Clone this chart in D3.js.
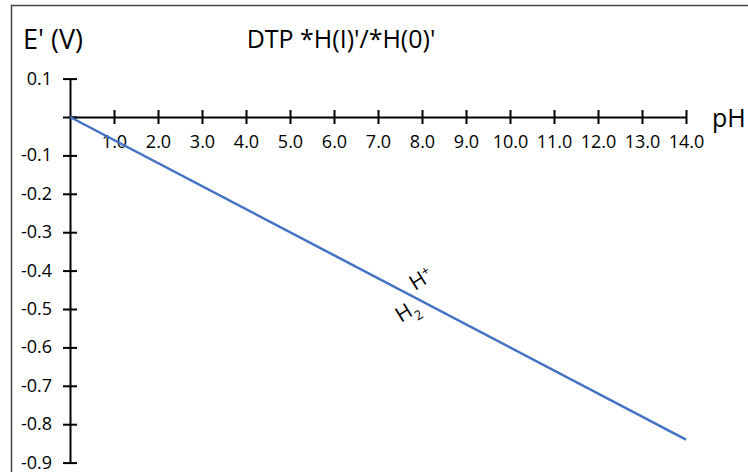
<!DOCTYPE html>
<html>
<head>
<meta charset="utf-8">
<script src="https://cdn.jsdelivr.net/npm/d3@7"></script>
<style>
  body { margin: 0; background: #fff; }
  text { font-family: "Open Sans", sans-serif; fill: #000; }
</style>
</head>
<body>
<div id="chart"></div>
<script>
// data
var phValues = [0, 14];
var potentials = [0, -0.84];
var xTicks = [1, 2, 3, 4, 5, 6, 7, 8, 9, 10, 11, 12, 13, 14];
var yTicks = [0.1, 0, -0.1, -0.2, -0.3, -0.4, -0.5, -0.6, -0.7, -0.8, -0.9];

var svgWidth = 748;
var svgHeight = 472;

var svg = d3.select("#chart")
    .append("svg")
    .attr("width", svgWidth)
    .attr("height", svgHeight);

// outer frame
svg.append("rect")
    .attr("x", 11.5)
    .attr("y", 5.5)
    .attr("width", 760)
    .attr("height", 480)
    .attr("fill", "none")
    .attr("stroke", "#444")
    .attr("stroke-width", 1.5);

var x = d3.scaleLinear().domain([0, 14]).range([70, 686]);
var y = d3.scaleLinear().domain([0.1, -0.9]).range([78.6, 462.6]);

var fmt = function(d) { return d.toFixed(1).replace("\u2212", "-"); };

// y axis
var yAxis = svg.append("g")
    .attr("transform", "translate(" + x(0) + ",0)")
    .call(d3.axisLeft(y).tickValues(yTicks).tickSize(7).tickSizeOuter(0)
        .tickFormat(d => d === 0 ? "" : fmt(d)));
yAxis.selectAll(".tick line").attr("x1", 7);
yAxis.selectAll(".tick text").attr("x", -18).attr("dy", "0.3em").style("font-size", "18px");

// x axis
var xAxis = svg.append("g")
    .attr("transform", "translate(0," + y(0) + ")")
    .call(d3.axisBottom(x).tickValues(xTicks).tickSize(7).tickSizeOuter(0)
        .tickFormat(fmt));
xAxis.selectAll(".tick line").attr("y1", -7);
xAxis.selectAll(".tick text").attr("y", 18).style("font-size", "18px");

svg.selectAll(".domain").attr("stroke", "#000").attr("stroke-width", 2);
svg.selectAll(".tick line").attr("stroke", "#000").attr("stroke-width", 2);

// H+/H2 line
var line = d3.line()
    .x((d, i) => x(phValues[i]))
    .y(d => y(d));

svg.append("path")
    .datum(potentials)
    .attr("d", line)
    .attr("fill", "none")
    .attr("stroke", "#4472C4")
    .attr("stroke-width", 2.5);

// labels
svg.append("text")
    .attr("x", 23)
    .attr("y", 49)
    .style("font-size", "27px")
    .text("E' (V)");

svg.append("text")
    .attr("x", 341)
    .attr("y", 48)
    .attr("text-anchor", "middle")
    .style("font-size", "25px")
    .text("DTP *H(I)'/*H(0)'");

svg.append("text")
    .attr("x", 712)
    .attr("y", 127)
    .style("font-size", "25px")
    .text("pH");

var hp = svg.append("text")
    .attr("transform", "translate(415,291) rotate(-32)")
    .style("font-size", "21px");
hp.append("tspan").text("H");
hp.append("tspan").attr("dy", -7).style("font-size", "13px").text("+");

var h2 = svg.append("text")
    .attr("transform", "translate(401,323) rotate(-32)")
    .style("font-size", "21px");
h2.append("tspan").text("H");
h2.append("tspan").attr("dy", 7).style("font-size", "13px").text("2");
</script>
</body>
</html>
